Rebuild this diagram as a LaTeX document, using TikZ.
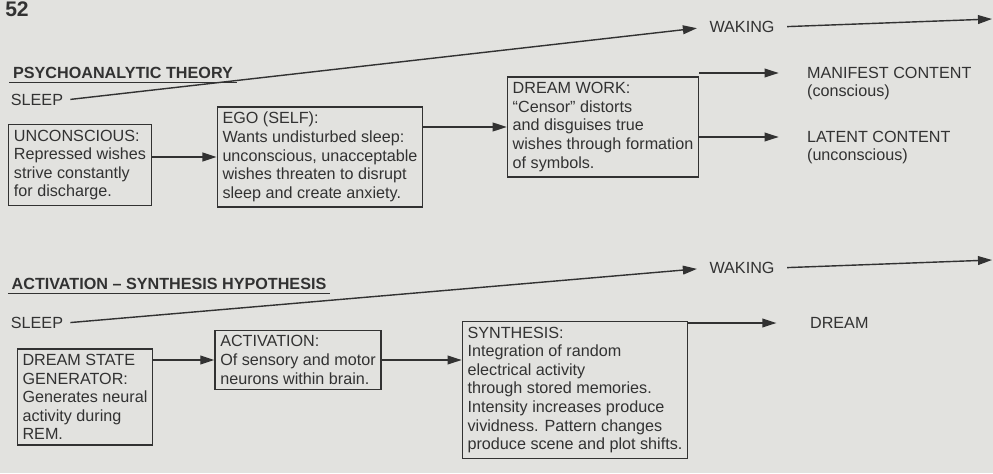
\documentclass[tikz,border=0pt]{standalone}
\usepackage{fontspec}
\setmainfont{Liberation Sans}
\usetikzlibrary{arrows.meta,positioning}
\definecolor{pagegray}{RGB}{226,226,223}
\definecolor{ink}{RGB}{50,50,50}

\begin{document}
\begin{tikzpicture}[x=0.02cm, y=-0.02cm,
            every node/.style = {text=ink, font=\fontsize{9.2}{10.6}\selectfont},
            box/.style = {draw=ink, line width=0.8pt, align=left, inner sep=3pt},
            title/.style = {font=\fontsize{9.2}{11}\selectfont\bfseries, inner sep=2pt},
            tag/.style = {inner sep=1pt, align=left},
            arr/.style = {draw=ink, line width=0.8pt, -{Triangle[length=8pt,width=5pt]}}]
    \fill[pagegray] (0,0) rectangle (993,473);
    \useasboundingbox (0,0) rectangle (993,473);

    \node[font=\fontsize{12}{12}\selectfont\bfseries, inner sep=0pt] (page) at (17,9) {52};

    % psychoanalytic theory
    \node[title] (ti1) at (123,73) {PSYCHOANALYTIC THEORY};
    \draw[ink, line width=0.8pt] (ti1.south west) -- (ti1.south east);
    \node[tag] (sl1) at (37,100) {SLEEP};
    \node[tag] (wk1) at (742,27) {WAKING};
    \coordinate (wk1end) at (992,19);
    \draw[arr, shorten <=3pt, shorten >=6pt] (sl1.east) -- (wk1.west);
    \draw[arr, shorten <=6pt] (wk1.east) -- (wk1end);

    \node[box] (unc) at (80,165) {UNCONSCIOUS:\\Repressed wishes\\strive constantly\\for discharge.};
    \node[box] (ego) at (320,157) {EGO (SELF):\\Wants undisturbed sleep:\\unconscious, unacceptable\\wishes threaten to disrupt\\sleep and create anxiety.};
    \node[box] (dw) at (603,127) {DREAM WORK:\\``Censor'' distorts\\and disguises true\\wishes through formation\\of symbols.};

    \node[tag, anchor=west] (man) at (805,73) {MANIFEST CONTENT};
    \node[tag, below=1pt of man.south west, anchor=north west] (mancon) {(conscious)};
    \node[tag, anchor=west] (lat) at (805,137) {LATENT CONTENT};
    \node[tag, below=1pt of lat.south west, anchor=north west] (latcon) {(unconscious)};

    \draw[arr] (unc.east |- ego.west) -- (ego.west);
    \draw[arr] (ego.east |- dw.west) -- (dw.west);
    \draw[arr, shorten >=15pt] (dw.east |- man.west) -- (man.west);
    \draw[arr, shorten >=15pt] (dw.east |- lat.west) -- (lat.west);

    % activation-synthesis hypothesis
    \node[title] (ti2) at (169,284) {ACTIVATION -- SYNTHESIS HYPOTHESIS};
    \draw[ink, line width=0.8pt] (ti2.south west) -- (ti2.south east);
    \node[tag] (sl2) at (37,323) {SLEEP};
    \node[tag] (wk2) at (742,268) {WAKING};
    \coordinate (wk2end) at (992,260);
    \draw[arr, shorten <=3pt, shorten >=6pt] (sl2.east) -- (wk2.west);
    \draw[arr, shorten <=6pt] (wk2.east) -- (wk2end);

    \node[box] (dsg) at (85,397) {DREAM STATE\\GENERATOR:\\Generates neural\\activity during\\REM.};
    \node[box] (act) at (298,360) {ACTIVATION:\\Of sensory and motor\\neurons within brain.};
    \node[box] (syn) at (575,390) {SYNTHESIS:\\Integration of random\\electrical activity\\through stored memories.\\Intensity increases produce\\vividness. Pattern changes\\produce scene and plot shifts.};

    \node[tag, anchor=west] (dream) at (808,323) {DREAM};

    \draw[arr] (dsg.east |- act.west) -- (act.west);
    \draw[arr] (act.east) -- (act.east -| syn.west);
    \draw[arr, shorten >=18pt] (syn.east |- dream.west) -- (dream.west);
\end{tikzpicture}
\end{document}
